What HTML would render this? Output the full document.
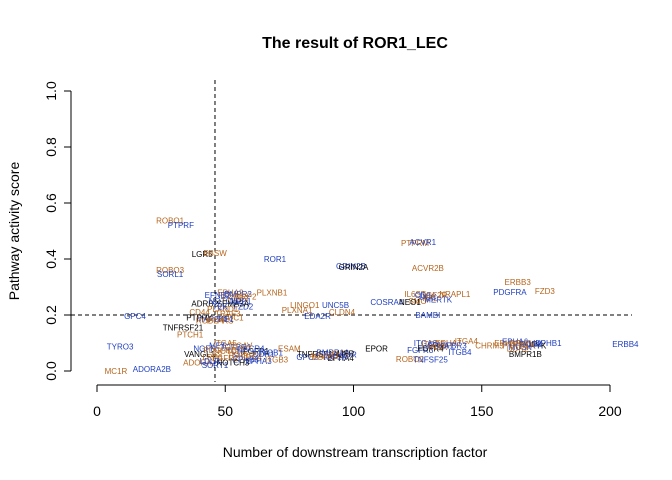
<!DOCTYPE html>
<html><head><meta charset="utf-8">
<style>
html,body{margin:0;padding:0;background:#fff;}
svg{display:block;font-family:"Liberation Sans",Arial,sans-serif;}
</style></head>
<body>
<svg id="chart" width="672" height="480" viewBox="0 0 672 480" xmlns="http://www.w3.org/2000/svg">
<text x="355" y="48" text-anchor="middle" font-size="16" font-weight="bold">The result of ROR1_LEC</text>
<g id="axes"></g>
<g id="marks"></g>
<text x="355" y="457" text-anchor="middle" font-size="14">Number of downstream transcription factor</text>
<text transform="translate(19,231) rotate(-90)" text-anchor="middle" font-size="14">Pathway activity score</text>
</svg>
<script>
const xTicks=[0,50,100,150,200];
const yTicks=[0.0,0.2,0.4,0.6,0.8,1.0];
const yTickLabels=["0.0","0.2","0.4","0.6","0.8","1.0"];
const xCut=46;
const yCut=0.2;
const geneNames=["ROBO1","PTPRF","LGR5","EBSW","ROR1","ROBO3","SORL1","PLXNB1","GPC4","TNFRSF21",
"PTCH1","TYRO3","MC1R","ADORA2B","ESAM","GPC2","EPHA4","LINGO1","UNC5B","PLXNA1",
"EDA2R","CLDN4","GRIN2B","GRIN2A","PTPRM","ACVR1","ACVR2B","COSRA4","NRAPL1","BAMBI",
"EPOR","ROBO2","TNFSF25","ITGA4","ITGB4","CHRM3","EPHB1","BMPR1B","ERBB3","PDGFRA",
"FZD3","ERBB4",
"EPHA2","BMPR2","ADRB2","CD44","NOTCH2","EPHB2","FZD2","TRAF3","EFNB2","SEMA3A","PLXND1","NRP1","NRP2","TEK",
"SDC1","MAP2K1","PTPRK","PTPRS","TIE1","ROBO4",
"MET","ITGA5","NGFR","VANGL1","ADORA1","SORT1","NOTCH1","KIT","SDC4","EPHB3","FGFR1","FGFR2","TGFBR1","TGFBR2","DDR1","PDGFRB","EPHA3","NOTCH3","LRP6","ITGB1","ITGB3","CXCR4","ITGAV","LDLR",
"TNFRSF1A","ACVR1B","BMPR1A","FLT1","KDR","EGFR","IGF1R","LIFR",
"IL6ST","CD9","AXL","MERTK","SMO","DCC","NEO1","IGF2R",
"ITGA6","ITGB5","EPHA1","EPHA7","FGFR3","FGFR4","INSR","TGFBR3",
"EPHA5","EPHA6","EPHB4","ROR2","RYK","PTK7","MUSK","ALK","LTK","DDR2"];
const geneX=[28.5,32.7,41,46,69.4,28.5,28.5,68.2,14.8,33.5,
36.3,9,7.4,21.4,75,82,95,81,93,78,
86,95.5,99,100,124,127,129,113,139.5,129,
109,122,130,144,141.5,153,176,167,164,161,
174.6,206,
52,55,42,40,50,54,57,51,47,53,49,56,58,48,
53,45,40,48,50,44,
47,50,42,40,40,46,52,55,60,58,62,50,54,57,65,48,63,53,45,68,70,60,56,44,
86,89,92,95,98,88,93,97,
124,127,130,133,125,129,122,132,
128,131,134,137,126,130,133,138,
160,163,166,169,172,162,165,168,171,164];
const geneY=[0.536,0.52,0.418,0.42,0.4,0.36,0.345,0.28,0.196,0.154,
0.13,0.086,0.0,0.007,0.08,0.05,0.046,0.235,0.235,0.218,
0.196,0.21,0.375,0.37,0.457,0.46,0.368,0.246,0.275,0.2,
0.08,0.043,0.04,0.107,0.068,0.09,0.1,0.06,0.318,0.282,
0.285,0.096,
0.28,0.275,0.24,0.21,0.25,0.26,0.23,0.205,0.27,0.24,0.22,0.25,0.265,0.23,
0.19,0.185,0.19,0.18,0.185,0.18,
0.09,0.1,0.08,0.06,0.03,0.02,0.07,0.06,0.05,0.04,0.07,0.045,0.085,0.055,0.06,0.075,0.035,0.03,0.05,0.065,0.04,0.08,0.09,0.035,
0.06,0.055,0.065,0.06,0.058,0.05,0.05,0.062,
0.275,0.27,0.26,0.255,0.25,0.265,0.245,0.27,
0.1,0.095,0.09,0.1,0.075,0.08,0.085,0.09,
0.1,0.105,0.1,0.095,0.09,0.09,0.085,0.09,0.095,0.08];
const geneColor=["#b5651d","#1f3fbf","#000","#b5651d","#1f3fbf","#b5651d","#1f3fbf"];
const X0=97,X1=610,Y0=371,Y1=91;
const sx=v=>X0+(v-0)/(200-0)*(X1-X0);
const sy=v=>Y0-(v-0)/(1-0)*(Y0-Y1);
const NS="http://www.w3.org/2000/svg";
function mk(tag,attrs,parent){const e=document.createElementNS(NS,tag);for(const k in attrs)e.setAttribute(k,attrs[k]);parent.appendChild(e);return e;}
const ax=document.getElementById('axes');
let l=mk('line',{x1:sx(0),x2:sx(200),y1:385,y2:385,stroke:'#000'},ax);


xTicks.forEach(t=>{
 const tk=mk('line',{x1:sx(t),x2:sx(t),y1:385,y2:392,stroke:'#000'},ax);
 
 
 const tx=mk('text',{x:sx(t),y:416,'text-anchor':'middle','font-size':14},ax);tx.textContent=t;
 
 
});
l=mk('line',{x1:71,x2:71,y1:sy(0),y2:sy(1),stroke:'#000'},ax);


yTicks.forEach((t,i)=>{
 const tk=mk('line',{x1:64,x2:71,y1:sy(t),y2:sy(t),stroke:'#000'},ax);
 
 
 const tx=mk('text',{transform:`translate(56,${sy(t)}) rotate(-90)`,'text-anchor':'middle','font-size':14},ax);tx.textContent=yTickLabels[i];
 
 
});
l=mk('line',{x1:sx(xCut),x2:sx(xCut),y1:80,y2:382,stroke:'#000','stroke-dasharray':'4,3'},ax);


l=mk('line',{x1:71,x2:632,y1:sy(yCut),y2:sy(yCut),stroke:'#000','stroke-dasharray':'4,3'},ax);


const mg=document.getElementById('marks');
geneNames.forEach((n,i)=>{
 if(geneX[i]===undefined||geneY[i]===undefined)return;
 const t=mk('text',{x:sx(geneX[i]),y:sy(geneY[i])+2.8,'text-anchor':'middle','font-size':8,fill:geneColor[i%geneColor.length]},mg);
 t.textContent=n;
 
 
});
</script>
</body></html>
